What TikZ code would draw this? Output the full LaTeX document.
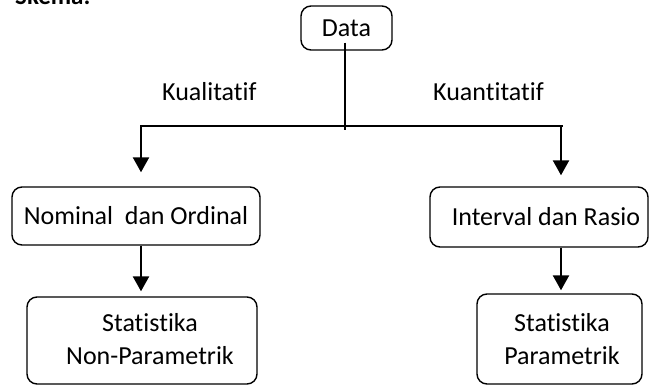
\documentclass[tikz,border=0pt]{standalone}
\usepackage{fontspec}
\setmainfont[Ligatures={NoCommon}]{Carlito}
\usetikzlibrary{arrows.meta}
\tikzset{
  box/.style={draw=black, line width=1.4pt, rounded corners=10pt, align=center, inner sep=0pt,
    font=\fontsize{26}{33}\selectfont},
  conn/.style={line width=2pt},
  arr/.style={line width=2.4pt, -{Triangle[width=16pt,length=15pt]}},
  lbl/.style={font=\fontsize{26}{30}\selectfont, inner sep=0pt}
}
\begin{document}
\begin{tikzpicture}[x=1pt,y=1pt]
\useasboundingbox (0,0) rectangle (649,385);
% partially visible heading
\node[anchor=base west, inner sep=0pt, font=\fontsize{25}{28}\selectfont\bfseries] (head) at (15,380) {Skema:};
% boxes
\node[box, minimum width=91pt, minimum height=44pt] (data) at (346.5,357) {Data};
\node[box, minimum width=248pt, minimum height=58pt] (nom) at (136,169) {Nominal\ \ dan Ordinal};
\node[box, minimum width=218pt, minimum height=60pt] (int) at (539,168) {\hspace*{14pt}Interval dan Rasio};
\node[box, minimum width=230pt, minimum height=87pt] (npar) at (142,44.5) {};
\node[box, minimum width=165pt, minimum height=90pt] (par) at (559.5,46) {};
\node[box, draw=none, align=center] (npart) at (150,46) {Statistika\\Non-Parametrik};
\node[box, draw=none, align=center] (part) at (562,46) {Statistika\\Parametrik};
% junction coordinates
\coordinate (low) at (345,255);
\coordinate (jl) at (140,259);
\coordinate (jr) at (563,259);
\coordinate (al) at (141,259);
\coordinate (ar) at (561,259);
% connectors
\draw[conn] ([yshift=8pt]data.south -| low) -- (low);
\draw[conn] (jl) -- (jr);
\draw[arr, shorten >=14pt] (al) -- (al |- nom.north);
\draw[arr, shorten >=11pt] (ar) -- (ar |- int.north);
\draw[arr, shorten >=5pt] (nom.south -| al) -- (al |- npar.north);
\draw[arr, shorten >=3pt] (int.south -| ar) -- (ar |- par.north);
% labels
\node[lbl, anchor=west] (kual) at (162,293) {Kualitatif};
\node[lbl, anchor=west] (kuan) at (433,293) {Kuantitatif};
\end{tikzpicture}
\end{document}
